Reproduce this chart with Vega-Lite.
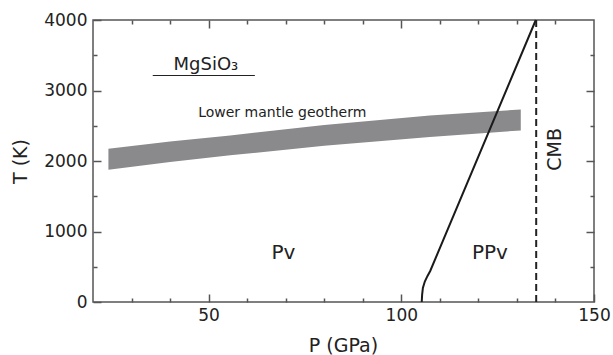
{
  "$schema": "https://vega.github.io/schema/vega-lite/v6.json",
  "width": 501,
  "height": 282,
  "autosize": {"type": "none"},
  "padding": {"left": 93, "top": 20, "right": 19, "bottom": 53},
  "background": "white",
  "view": {"stroke": "#555555", "strokeWidth": 1.5},
  "config": {
    "font": "DejaVu Sans",
    "axis": {
      "labelFont": "DejaVu Sans",
      "labelFontSize": 17,
      "labelColor": "#222222",
      "labelFlush": false,
      "labelOverlap": false,
      "titleFont": "DejaVu Sans",
      "titleFontSize": 19,
      "titleFontWeight": "normal",
      "titleColor": "#222222",
      "domain": false,
      "ticks": true,
      "tickColor": "#555555",
      "tickWidth": 1.5,
      "grid": false,
      "zindex": 1
    }
  },
  "resolve": {"axis": {"x": "independent", "y": "independent"}},
  "datasets": {
    "geotherm": [
      {"P": 24, "Tlow": 1877, "Thigh": 2175},
      {"P": 40, "Tlow": 1985, "Thigh": 2275},
      {"P": 55.6, "Tlow": 2080, "Thigh": 2363},
      {"P": 80, "Tlow": 2215, "Thigh": 2510},
      {"P": 107.4, "Tlow": 2339, "Thigh": 2646},
      {"P": 131, "Tlow": 2434, "Thigh": 2731}
    ],
    "boundary": [
      {"P": 105.3, "T": 0},
      {"P": 105.4, "T": 100},
      {"P": 105.6, "T": 200},
      {"P": 106.1, "T": 290},
      {"P": 106.8, "T": 370},
      {"P": 107.5, "T": 440},
      {"P": 134.9, "T": 4000}
    ]
  },
  "layer": [
    {
      "data": {"name": "geotherm"},
      "mark": {"type": "area", "color": "#8a8a8d"},
      "encoding": {
        "x": {
          "field": "P", "type": "quantitative",
          "scale": {"domain": [20, 150], "nice": false, "zero": false},
          "axis": {
            "orient": "bottom",
            "values": [50, 100, 150],
            "tickSize": 8,
            "offset": -8,
            "labelPadding": 5,
            "title": "P (GPa)",
            "titleBaseline": "alphabetic",
            "titleX": 250,
            "titleY": 57
          }
        },
        "y": {
          "field": "Tlow", "type": "quantitative",
          "scale": {"domain": [0, 4000], "nice": false},
          "axis": {
            "orient": "left",
            "values": [0, 1000, 2000, 3000, 4000],
            "tickSize": 8,
            "offset": -8,
            "labelPadding": 6,
            "format": "d",
            "title": "T (K)",
            "titleAngle": -90,
            "titleAlign": "center",
            "titleBaseline": "middle",
            "titleX": -81,
            "titleY": 141
          }
        },
        "y2": {"field": "Thigh"}
      }
    },
    {
      "data": {"name": "boundary"},
      "mark": {"type": "line", "color": "#1a1a1a", "strokeWidth": 2},
      "encoding": {
        "x": {
          "field": "P", "type": "quantitative",
          "axis": {
            "orient": "bottom",
            "values": [30, 40, 60, 70, 80, 90, 110, 120, 130, 140],
            "tickSize": 4,
            "offset": -4,
            "labels": false,
            "title": null
          }
        },
        "y": {
          "field": "T", "type": "quantitative",
          "axis": {
            "orient": "left",
            "values": [500, 1500, 2500, 3500],
            "tickSize": 4,
            "offset": -4,
            "labels": false,
            "title": null
          }
        }
      }
    },
    {
      "data": {"values": [{"P": 135}]},
      "mark": {"type": "rule", "color": "#222222", "strokeWidth": 2, "strokeDash": [7, 4]},
      "encoding": {
        "x": {
          "field": "P", "type": "quantitative",
          "axis": {
            "orient": "top",
            "values": [30, 40, 60, 70, 80, 90, 110, 120, 130, 140],
            "tickSize": 4,
            "offset": -4,
            "labels": false,
            "title": null
          }
        }
      }
    },
    {
      "data": {"values": [{"P1": 35.5, "P2": 62.0, "T": 3213}]},
      "mark": {"type": "rule", "color": "#222222", "strokeWidth": 1.2},
      "encoding": {
        "x": {
          "field": "P1", "type": "quantitative",
          "axis": {
            "orient": "top",
            "values": [50, 100],
            "tickSize": 8,
            "offset": -8,
            "labels": false,
            "title": null
          }
        },
        "x2": {"field": "P2"},
        "y": {
          "field": "T", "type": "quantitative",
          "axis": {
            "orient": "right",
            "values": [1000, 2000, 3000],
            "tickSize": 8,
            "offset": -8,
            "labels": false,
            "title": null
          }
        }
      }
    },
    {
      "data": {"values": [{"label": "MgSiO₃", "P": 49.3, "T": 3284}]},
      "mark": {"type": "text", "font": "DejaVu Sans", "fontSize": 18, "color": "#222222", "align": "center", "baseline": "alphabetic"},
      "encoding": {
        "x": {"field": "P", "type": "quantitative", "axis": null},
        "y": {
          "field": "T", "type": "quantitative",
          "axis": {
            "orient": "right",
            "values": [500, 1500, 2500, 3500],
            "tickSize": 4,
            "offset": -4,
            "labels": false,
            "title": null
          }
        },
        "text": {"field": "label"}
      }
    },
    {
      "data": {"values": [{"label": "Lower mantle geotherm", "P": 69.1, "T": 2622}]},
      "mark": {"type": "text", "font": "DejaVu Sans", "fontSize": 14, "color": "#222222", "align": "center", "baseline": "alphabetic"},
      "encoding": {
        "x": {"field": "P", "type": "quantitative", "axis": null},
        "y": {"field": "T", "type": "quantitative", "axis": null},
        "text": {"field": "label"}
      }
    },
    {
      "data": {"values": [{"label": "Pv", "P": 69.4, "T": 605}, {"label": "PPv", "P": 123.0, "T": 605}]},
      "mark": {"type": "text", "font": "DejaVu Sans", "fontSize": 20, "color": "#222222", "align": "center", "baseline": "alphabetic"},
      "encoding": {
        "x": {"field": "P", "type": "quantitative", "axis": null},
        "y": {"field": "T", "type": "quantitative", "axis": null},
        "text": {"field": "label"}
      }
    },
    {
      "data": {"values": [{"label": "CMB", "P": 139.9, "T": 2164}]},
      "mark": {"type": "text", "font": "DejaVu Sans", "fontSize": 19, "color": "#222222", "align": "center", "baseline": "middle", "angle": 270},
      "encoding": {
        "x": {"field": "P", "type": "quantitative", "axis": null},
        "y": {"field": "T", "type": "quantitative", "axis": null},
        "text": {"field": "label"}
      }
    }
  ]
}
